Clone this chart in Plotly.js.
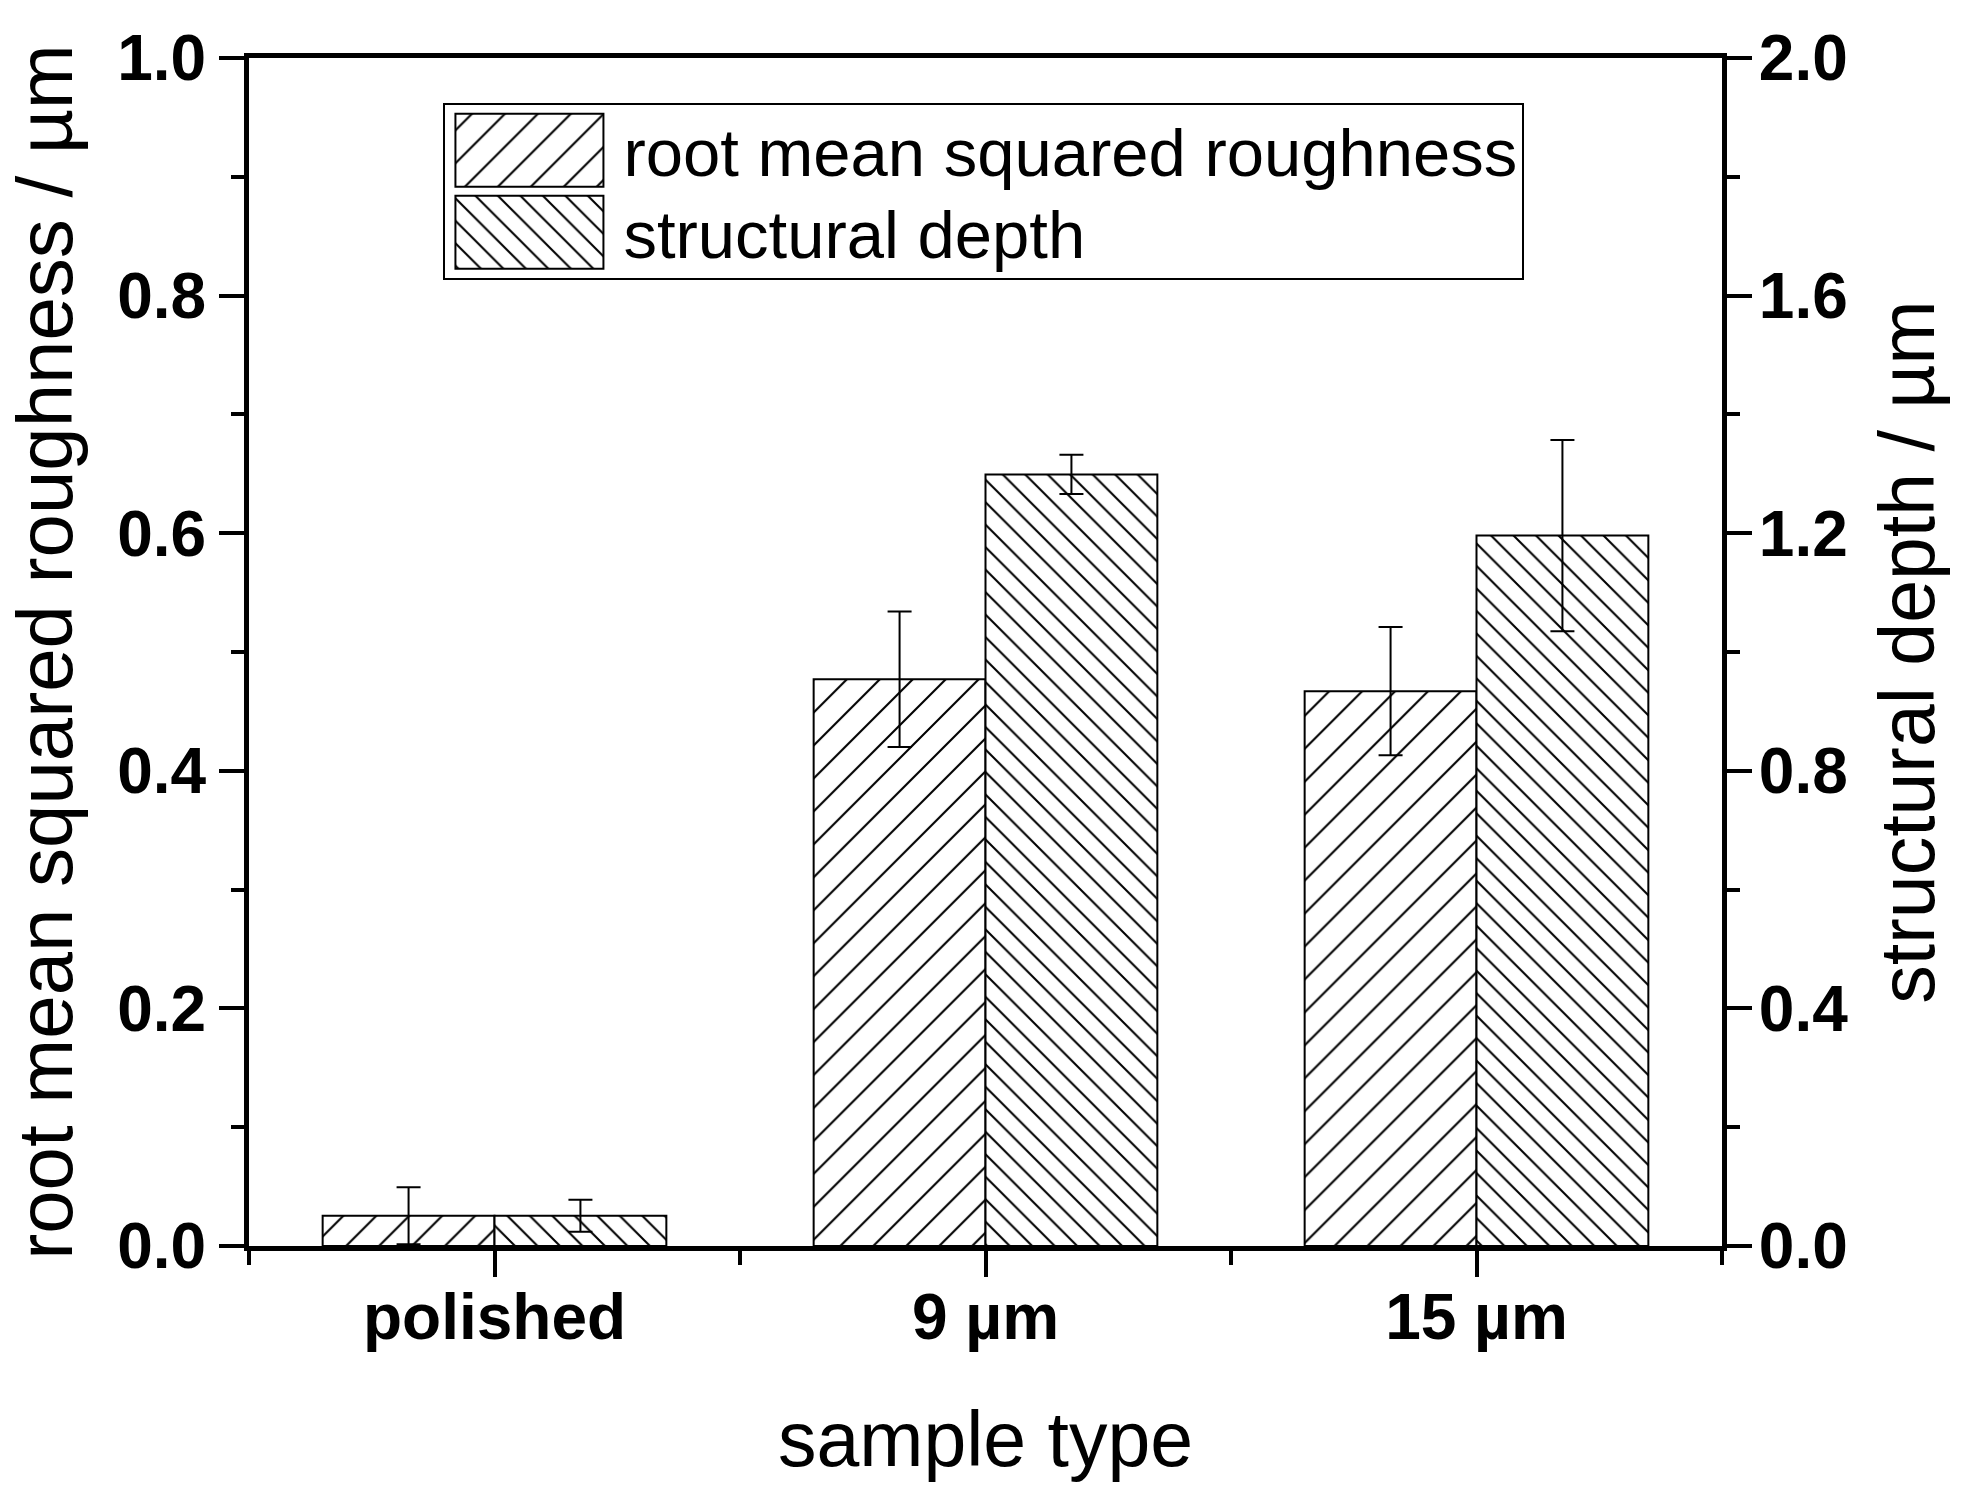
<!DOCTYPE html>
<html>
<head>
<meta charset="utf-8">
<script src="https://cdn.plot.ly/plotly-3.0.1.min.js"></script>
<style>html,body{margin:0;padding:0;background:#fff;}</style>
</head>
<body>
<div id="chart" style="width:1968px;height:1510px;"></div>
<script>
const categories = ['polished', '9 µm', '15 µm'];
const rmsRoughness = [0.0255, 0.477, 0.467];
const rmsRoughnessErr = [0.024, 0.057, 0.054];
const structuralDepth = [0.051, 1.299, 1.196];
const structuralDepthErr = [0.027, 0.033, 0.161];
const leftTicks = [0, 0.2, 0.4, 0.6, 0.8, 1.0];
const rightTicks = [0, 0.4, 0.8, 1.2, 1.6, 2.0];

const xIdx = categories.map((c, i) => i);
const FONT = 'Liberation Sans, Arial, sans-serif';

const traces = [
  {
    type: 'bar', name: 'root mean squared roughness',
    x: xIdx, y: rmsRoughness, yaxis: 'y',
    width: 0.35, offset: -0.35,
    marker: {color: 'white', line: {color: 'black', width: 2},
      pattern: {shape: '/', fgcolor: 'black', bgcolor: 'white', size: 23.3, solidity: 0.09, fillmode: 'replace'}},
    error_y: {type: 'data', array: rmsRoughnessErr, visible: true, color: 'black', thickness: 2, width: 12},
    cliponaxis: false
  },
  {
    type: 'bar', name: 'structural depth',
    x: xIdx, y: structuralDepth, yaxis: 'y2',
    width: 0.35, offset: 0,
    marker: {color: 'white', line: {color: 'black', width: 2},
      pattern: {shape: '\\', fgcolor: 'black', bgcolor: 'white', size: 15.9, solidity: 0.13, fillmode: 'replace'}},
    error_y: {type: 'data', array: structuralDepthErr, visible: true, color: 'black', thickness: 2, width: 12},
    cliponaxis: false
  }
];

const layout = {
  width: 1968, height: 1510,
  margin: {l: 249, r: 246, t: 58, b: 264, pad: 0},
  paper_bgcolor: 'white', plot_bgcolor: 'white',
  font: {family: FONT, color: 'black'},
  showlegend: true,
  legend: {
    x: 0.132, y: 0.962, xanchor: 'left', yanchor: 'top',
    bgcolor: 'white', bordercolor: 'black', borderwidth: 2,
    font: {family: FONT, size: 67, color: 'black'},
    itemwidth: 168, tracegroupgap: 0, traceorder: 'normal'
  },
  xaxis: {
    range: [-0.5, 2.5], tickmode: 'array', tickvals: xIdx, ticktext: categories,
    showline: true, linecolor: 'black', linewidth: 5, mirror: true,
    ticks: 'outside', ticklen: 26, tickwidth: 4, tickcolor: 'black',
    minor: {tickmode: 'linear', tick0: 0.5, dtick: 1, ticks: 'outside', ticklen: 14, tickwidth: 4, tickcolor: 'black'},
    showgrid: false, zeroline: false,
    ticklabelstandoff: -15,
    tickfont: {family: FONT, size: 64, weight: 'bold', color: 'black'},
    title: {text: 'sample type', font: {family: FONT, size: 77, color: 'black'}, standoff: 62},
    fixedrange: true
  },
  yaxis: {
    range: [0, 1], tickmode: 'array', tickvals: leftTicks, tickformat: '.1f',
    showline: true, linecolor: 'black', linewidth: 5,
    ticks: 'outside', ticklen: 25, tickwidth: 4, tickcolor: 'black',
    minor: {tickmode: 'linear', tick0: 0, dtick: 0.1, ticks: 'outside', ticklen: 13, tickwidth: 4, tickcolor: 'black'},
    showgrid: false, zeroline: false,
    tickfont: {family: FONT, size: 64, weight: 'bold', color: 'black'},
    title: {text: 'root mean squared roughness / µm', font: {family: FONT, size: 78, color: 'black'}, standoff: 20},
    fixedrange: true
  },
  yaxis2: {
    overlaying: 'y', side: 'right',
    range: [0, 2], tickmode: 'array', tickvals: rightTicks, tickformat: '.1f',
    showline: true, linecolor: 'black', linewidth: 5,
    ticks: 'outside', ticklen: 25, tickwidth: 4, tickcolor: 'black',
    minor: {tickmode: 'linear', tick0: 0, dtick: 0.2, ticks: 'outside', ticklen: 13, tickwidth: 4, tickcolor: 'black'},
    showgrid: false, zeroline: false,
    ticklabelstandoff: -6,
    tickfont: {family: FONT, size: 64, weight: 'bold', color: 'black'},
    title: {text: 'structural depth / µm', font: {family: FONT, size: 77, color: 'black'}, standoff: 34},
    fixedrange: true
  }
};

Plotly.newPlot('chart', traces, layout, {displayModeBar: false, staticPlot: true}).then(function () {
  const barTraces = document.querySelectorAll('#chart .barlayer .trace');
  const legendTraces = document.querySelectorAll('#chart .legend .traces');
  const rowShift = [-5, -13];
  legendTraces.forEach(function (lt, i) {
    const p = lt.querySelector('.legendpoints path');
    if (p) {
      p.setAttribute('d', 'M-79,-36.5H69V36.5H-79Z');
      const bp = barTraces[i] ? barTraces[i].querySelector('path') : null;
      if (bp && bp.style.fill) p.style.fill = bp.style.fill;
    }
    const tr = lt.getAttribute('transform') || '';
    const m = tr.match(/translate\(\s*([-\d.e]+)[ ,]+([-\d.e]+)\s*\)/);
    if (m) {
      lt.setAttribute('transform', 'translate(' + m[1] + ',' + (parseFloat(m[2]) + (rowShift[i] || 0)) + ')');
    }
  });
  const bg = document.querySelector('#chart .legend rect.bg');
  if (bg) {
    const h = parseFloat(bg.getAttribute('height'));
    if (!isNaN(h)) bg.setAttribute('height', h - 18);
  }
});
</script>
</body>
</html>
